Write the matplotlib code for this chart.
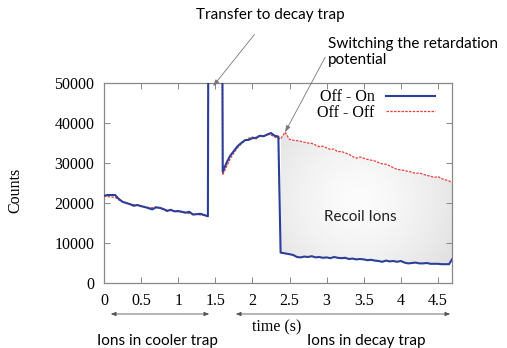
import numpy as np
import matplotlib
matplotlib.use("Agg")
import matplotlib.pyplot as plt
from matplotlib.patches import PathPatch, FancyArrowPatch
from matplotlib.path import Path

# ---------------- data ----------------
t_cool = [0.00, 0.05, 0.10, 0.15, 0.20, 0.25, 0.30, 0.35, 0.40, 0.45, 0.50, 0.55,
          0.60, 0.65, 0.70, 0.75, 0.80, 0.85, 0.90, 0.95, 1.00, 1.05, 1.10, 1.15,
          1.20, 1.25, 1.30, 1.35, 1.40]
on_cool = [21800, 22000, 22000, 22000, 21000, 20300, 20000, 19700, 19300, 19500, 19200, 19000,
           18700, 18400, 18900, 18800, 18500, 18000, 18300, 17900, 18000, 17800, 17600, 17800,
           17100, 17200, 17300, 17000, 16700]
off_cool = [21800, 21600, 21500, 21400, 20800, 20300, 20100, 19800, 19600, 19400, 19300, 18900,
            18900, 18800, 19000, 18700, 18400, 18200, 18100, 18000, 17800, 17700, 17500, 17400,
            17300, 17200, 17000, 16900, 16600]

t_transfer = [1.41, 1.59]
transfer_counts = [90000, 90000]

t_rise = [1.60, 1.65, 1.70, 1.75, 1.80, 1.85, 1.90, 1.95, 2.00, 2.05, 2.10, 2.15,
          2.20, 2.25, 2.30, 2.35]
on_rise = [27800, 30000, 31800, 33000, 34200, 35000, 35700, 35800, 36200, 36300, 36800, 36700,
           37100, 37500, 36800, 36600]
off_rise = [27000, 29000, 31000, 32500, 33800, 34800, 35600, 36200, 36500, 36000, 37000, 36600,
            37200, 37000, 36500, 36200]

t_decay = [2.38, 2.44, 2.50, 2.55, 2.60, 2.65, 2.70, 2.75, 2.80, 2.85, 2.90, 2.95,
           3.00, 3.05, 3.10, 3.15, 3.20, 3.25, 3.30, 3.35, 3.40, 3.45, 3.50, 3.55,
           3.60, 3.65, 3.70, 3.75, 3.80, 3.85, 3.90, 3.95, 4.00, 4.05, 4.10, 4.15,
           4.20, 4.25, 4.30, 4.35, 4.40, 4.45, 4.50, 4.55, 4.60, 4.65, 4.69]
on_decay = [7600, 7400, 7200, 7000, 6500, 6400, 6600, 6500, 6700, 6400, 6500, 6300,
            6400, 6200, 6500, 6300, 6200, 6300, 6000, 6100, 5900, 6000, 5900, 5700,
            5800, 5600, 5500, 5300, 5600, 5400, 5500, 5300, 5500, 5100, 4900, 5000,
            5100, 4900, 4900, 5000, 4800, 4800, 4800, 4700, 4700, 4700, 5900]
off_decay = [36000, 37700, 35900, 35700, 35600, 35400, 35200, 35000, 34900, 34500, 34100, 34200,
             33800, 33400, 33500, 32800, 32900, 32500, 32200, 31600, 31200, 31500, 31200, 30900,
             30700, 30500, 30100, 29800, 29700, 29300, 28800, 28400, 28300, 28100, 27900, 27700,
             27400, 27500, 27200, 26900, 26700, 26400, 26600, 26100, 25800, 25500, 25200]

legend_labels = ["Off - On", "Off - Off"]
y_ticks = [0, 10000, 20000, 30000, 40000, 50000]
y_ticklabels = ["0", "10000", "20000", "30000", "40000", "50000"]
x_ticks = [0, 0.5, 1, 1.5, 2, 2.5, 3, 3.5, 4, 4.5]
x_ticklabels = ["0", "0.5", "1", "1.5", "2", "2.5", "3", "3.5", "4", "4.5"]

# ------------- combine series -------------
t_on = t_cool + t_transfer + t_rise + t_decay
y_on = on_cool + transfer_counts + on_rise + on_decay
t_off = t_cool + t_transfer + t_rise + t_decay
y_off = off_cool + transfer_counts + off_rise + off_decay

BLUE = "#2b3f99"
RED = "#e8413c"
SERIF = ["Liberation Serif", "DejaVu Serif"]
SANS = ["Lato", "DejaVu Sans"]
plt.rcParams["font.family"] = SERIF

fig = plt.figure(figsize=(5.07, 3.48), dpi=100)
ax = fig.add_axes([104 / 507, 65 / 348, 348 / 507, 200 / 348])
ax.set_xlim(0, 4.69)
ax.set_ylim(0, 50000)

# shaded "recoil ions" region with a soft radial gradient
verts = list(zip(t_decay, off_decay)) + list(zip(t_decay[::-1], on_decay[::-1]))
poly = Path(verts + [verts[0]], closed=True)
patch = PathPatch(poly, facecolor="none", edgecolor="none")
ax.add_patch(patch)
gx, gy = np.meshgrid(np.linspace(0, 1, 200), np.linspace(0, 1, 200))
r = np.sqrt(((gx - 0.45) / 0.75) ** 2 + ((gy - 0.55) / 0.8) ** 2)
img = ax.imshow(0.985 - 0.13 * np.clip(r, 0, 1) ** 1.5, cmap="gray", vmin=0, vmax=1,
                extent=[t_decay[0], t_decay[-1], 0, 38000], origin="lower",
                aspect="auto", zorder=1, interpolation="bilinear")
img.set_clip_path(patch)

ax.plot(t_off, y_off, color=RED, lw=0.9, ls=(0, (2, 1)), zorder=3, label=legend_labels[1])
ax.plot(t_on, y_on, color=BLUE, lw=1.5, zorder=4, label=legend_labels[0])

ax.set_xticks(x_ticks)
ax.set_xticklabels(x_ticklabels, fontfamily="Liberation Serif", fontsize=11.5)
ax.set_yticks(y_ticks)
ax.set_yticklabels(y_ticklabels, fontfamily="Liberation Serif", fontsize=11.5)
ax.tick_params(direction="in", top=True, right=True, length=4, width=0.7,
               colors="#888888", labelcolor="black", pad=7)
for s in ax.spines.values():
    s.set_color("#888888")
    s.set_linewidth(0.9)

handles, labels = ax.get_legend_handles_labels()
leg = ax.legend(handles[::-1], labels[::-1], loc="upper right", frameon=False,
                markerfirst=False, prop={"family": "Liberation Serif", "size": 11.5},
                handlelength=3.1, handletextpad=0.7, borderaxespad=0.0,
                labelspacing=-0.05, bbox_to_anchor=(0.97, 1.0))

fig.text(15 / 507, 1 - 190 / 348, "Counts", rotation=90, ha="center", va="center",
         family="Liberation Serif", fontsize=11.5)
fig.text(277 / 507, 1 - 327 / 348, "time (s)", ha="center", va="center",
         family="Liberation Serif", fontsize=11.5)

ax.text(3.45, 16500, "Recoil Ions", ha="center", va="center", family=SANS, fontsize=11,
        color="#222222")

# annotations
ax.annotate("Transfer to decay trap", xy=(1.47, 49200), xycoords="data",
            xytext=(270 / 507, 1 - 15 / 348), textcoords="figure fraction",
            ha="center", va="center", family=SANS, fontsize=11,
            arrowprops=dict(arrowstyle="-|>,head_length=0.35,head_width=0.12",
                            color="#777777", lw=0.6, shrinkA=9, shrinkB=0))
ax.annotate("Switching the retardation\npotential", xy=(2.44, 37700), xycoords="data",
            xytext=(328 / 507, 1 - 52 / 348), textcoords="figure fraction",
            ha="left", va="center", family=SANS, fontsize=11, linespacing=1.1,
            arrowprops=dict(arrowstyle="-|>,head_length=0.35,head_width=0.12",
                            color="#777777", lw=0.6, shrinkA=0, shrinkB=0,
                            relpos=(0.0, 0.5)))

# phase arrows below the axis
ay = 1 - 314 / 348
fig.add_artist(FancyArrowPatch(
    (108 / 507, ay), (212 / 507, ay), transform=fig.transFigure,
    arrowstyle="<|-|>,head_length=3,head_width=1.2", color="#555555", lw=0.6))
fig.add_artist(FancyArrowPatch(
    (233 / 507, ay), (453 / 507, ay), transform=fig.transFigure,
    arrowstyle="<|-|>,head_length=3,head_width=1.2", color="#555555", lw=0.6))
fig.text(157 / 507, 1 - 341 / 348, "Ions in cooler trap", ha="center", va="center",
         family=SANS, fontsize=11)
fig.text(366 / 507, 1 - 341 / 348, "Ions in decay trap", ha="center", va="center",
         family=SANS, fontsize=11)

fig.savefig("out.png", dpi=100)
